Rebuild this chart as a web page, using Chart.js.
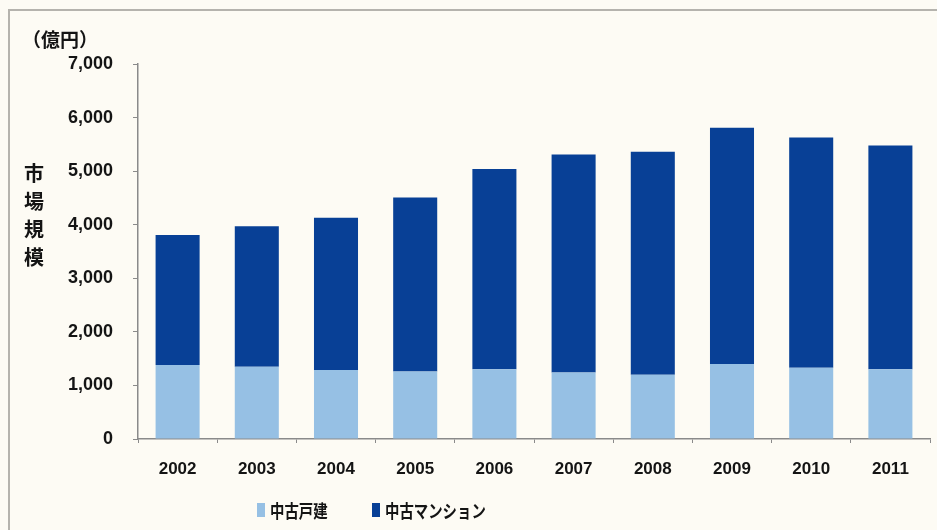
<!DOCTYPE html>
<html>

<head>
    <meta charset="utf-8">
    <title>中古住宅市場規模</title>
    <style>
        html, body { margin: 0; padding: 0; background: #fdfbf4; }
        canvas { display: block; }
    </style>
</head>

<body>
    <canvas id="myChart1" width="937" height="530"></canvas>
    <script src="https://cdn.jsdelivr.net/npm/chart.js@4.4.6/dist/chart.umd.min.js"></script>
    <script>
        // 市場規模（億円）
        const years = ["2002", "2003", "2004", "2005", "2006", "2007", "2008", "2009", "2010", "2011"]
        const detachedValues = [1380, 1350, 1290, 1260, 1300, 1240, 1200, 1400, 1330, 1300]
        const condoValues = [2430, 2620, 2840, 3250, 3740, 4070, 4160, 4410, 4300, 4180]
        const seriesNames = ["中古戸建", "中古マンション"]
        const unitLabel = "（億円）"
        const axisTitle = "市場規模"

        const COLORS = {
            light: "rgb(150, 192, 228)",
            dark: "rgb(8, 64, 150)",
            axis: "#8a8a8a",
            text: "#141414",
            bg: "#fdfbf4",
            frame: "#b5b3ad",
        }
        const JP_FONT = "'Noto Sans CJK JP', 'Noto Sans', sans-serif"

        // background, frame, unit label, vertical axis title and legend
        const decorations = {
            id: "decorations",
            beforeDraw(chart) {
                const ctx = chart.ctx
                ctx.save()
                ctx.fillStyle = COLORS.bg
                ctx.fillRect(0, 0, chart.width, chart.height)
                ctx.strokeStyle = COLORS.frame
                ctx.lineWidth = 2
                ctx.beginPath()
                ctx.moveTo(9, chart.height)
                ctx.lineTo(9, 10)
                ctx.lineTo(chart.width, 10)
                ctx.stroke()
                ctx.restore()
            },
            afterDraw(chart) {
                const ctx = chart.ctx
                ctx.save()
                ctx.fillStyle = COLORS.text
                ctx.textBaseline = "middle"
                ctx.font = "bold 19px " + JP_FONT
                ctx.textAlign = "left"
                ctx.fillText(unitLabel, 22, 40)

                ctx.font = "bold 20px " + JP_FONT
                ctx.textAlign = "center"
                Array.from(axisTitle).forEach((ch, i) => {
                    ctx.fillText(ch, 34, 173 + i * 28)
                })

                // legend, slightly condensed
                const items = [
                    { x: 257, label: seriesNames[0], color: COLORS.light },
                    { x: 372, label: seriesNames[1], color: COLORS.dark },
                ]
                const y = 510
                ctx.textAlign = "left"
                ctx.font = "bold 18px " + JP_FONT
                items.forEach(it => {
                    ctx.fillStyle = it.color
                    ctx.fillRect(it.x, y - 7, 8, 14)
                    ctx.save()
                    ctx.translate(it.x + 13, y)
                    ctx.scale(0.8, 1)
                    ctx.fillStyle = COLORS.text
                    ctx.fillText(it.label, 0, 1)
                    ctx.restore()
                })
                ctx.restore()
            },
        }

        const config = {
            type: "bar",
            data: {
                labels: years,
                datasets: [{
                    label: seriesNames[0],
                    data: detachedValues,
                    backgroundColor: COLORS.light,
                    borderWidth: 0,
                    categoryPercentage: 1,
                    barPercentage: 0.556,
                }, {
                    label: seriesNames[1],
                    data: condoValues,
                    backgroundColor: COLORS.dark,
                    borderWidth: 0,
                    categoryPercentage: 1,
                    barPercentage: 0.556,
                }],
            },
            options: {
                responsive: false,
                animation: false,
                layout: {
                    padding: { left: 0, right: 7, top: 64, bottom: 0 },
                },
                plugins: {
                    legend: { display: false },
                    tooltip: { enabled: false },
                },
                scales: {
                    x: {
                        stacked: true,
                        afterFit: scale => { scale.height = 91 },
                        border: { display: true, color: COLORS.axis, width: 1.5 },
                        grid: {
                            drawOnChartArea: false,
                            drawTicks: true,
                            tickLength: 4,
                            color: COLORS.axis,
                        },
                        ticks: {
                            color: COLORS.text,
                            padding: 16,
                            font: { family: "'Liberation Sans', Arial, sans-serif", size: 17, weight: "bold" },
                        },
                    },
                    y: {
                        stacked: true,
                        min: 0,
                        max: 7000,
                        afterFit: scale => { scale.width = 138 },
                        border: { display: true, color: COLORS.axis, width: 1.5 },
                        grid: {
                            drawOnChartArea: false,
                            drawTicks: true,
                            tickLength: 5,
                            color: COLORS.axis,
                        },
                        ticks: {
                            stepSize: 1000,
                            color: COLORS.text,
                            padding: 20,
                            font: { family: "'Liberation Sans', Arial, sans-serif", size: 18, weight: "bold" },
                            callback: v => v.toLocaleString("en-US"),
                        },
                    },
                },
            },
            plugins: [decorations],
        }

        new Chart(document.getElementById("myChart1"), config)
    </script>
</body>

</html>
